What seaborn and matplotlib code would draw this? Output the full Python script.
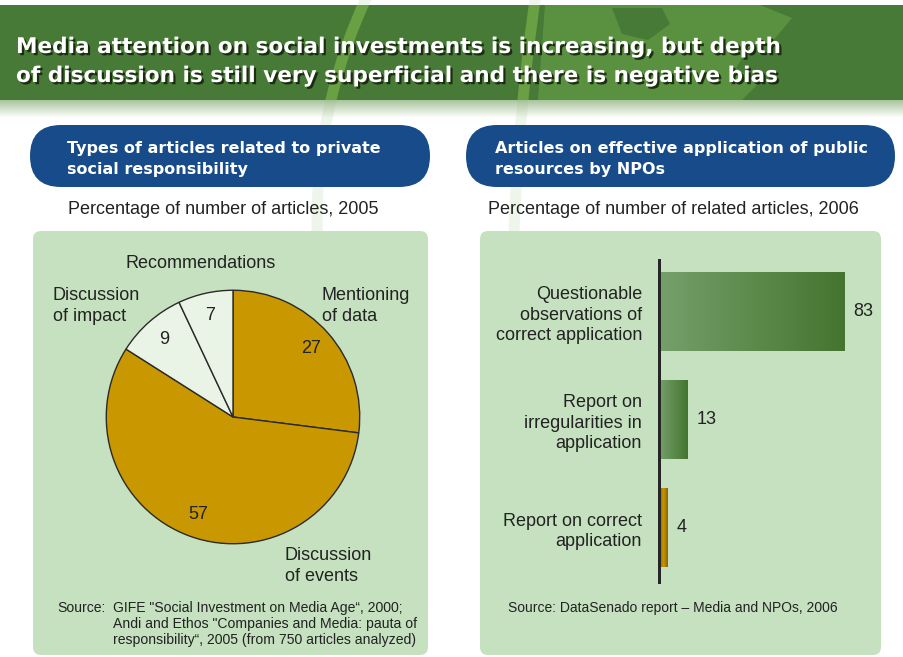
import numpy as np
import pandas as pd
import matplotlib
matplotlib.use("Agg")
import matplotlib.pyplot as plt
from matplotlib import patheffects as pe
from matplotlib.patches import FancyBboxPatch, Rectangle, Ellipse, Polygon
from matplotlib.colors import LinearSegmentedColormap, to_rgb
import seaborn as sns

# ---------------- data ----------------
title_lines = [
    "Media attention on social investments is increasing, but depth",
    "of discussion is still very superficial and there is negative bias",
]

pie_header = ["Types of articles related to private", "social responsibility"]
pie_subtitle = "Percentage of number of articles, 2005"
pie_categories = ["Mentioning of data", "Discussion of events",
                  "Discussion of impact", "Recommendations"]
pie_values = [27, 57, 9, 7]
pie_source = [
    "GIFE \"Social Investment on Media Age\u201c, 2000;",
    "Andi and Ethos \"Companies and Media: pauta of",
    "responsibility\u201c, 2005 (from 750 articles analyzed)",
]

bar_header = ["Articles on effective application of public", "resources by NPOs"]
bar_subtitle = "Percentage of number of related articles, 2006"
bar_categories = ["Questionable\nobservations of\ncorrect application",
                  "Report on\nirregularities in\napplication",
                  "Report on correct\napplication"]
bar_values = [83, 13, 4]
bar_source = "Source: DataSenado report \u2013 Media and NPOs, 2006"

# ---------------- style ----------------
sns.set_theme(style="white")
plt.rcParams["font.family"] = ["Liberation Sans", "DejaVu Sans"]
HEAD_FONT = ["DejaVu Sans"]

W, H = 904, 657
PX = 72 / 100  # points per pixel at dpi 100

BANNER = "#467A36"
BANNER_LIGHT = "#68A043"
OCEAN = "#5A9140"
WATERMARK = "#EEF5EA"
PILL = "#174B89"
PANEL = "#C5E1BF"
GOLD = "#C99700"
PALE = "#EAF4E6"
INK = "#222222"

fig = plt.figure(figsize=(W / 100, H / 100), dpi=100)
fig.patch.set_facecolor("white")

# background canvas in pixel units (y grows downward)
bg = fig.add_axes([0, 0, 1, 1], zorder=0)
bg.set_xlim(0, W)
bg.set_ylim(H, 0)
bg.axis("off")

# faint globe outline (circle plus one meridian) behind the headers
globe = [(842, 220, 525, 525), (842, 330, 330, 900)]
upper = Rectangle((0, 0), W, 232, fc="none", ec="none")
bg.add_patch(upper)
for cx, cy, rx, ry in globe:
    ring = Ellipse((cx, cy), 2 * rx, 2 * ry, fill=False,
                   ec=WATERMARK, lw=11 * PX, zorder=0)
    bg.add_patch(ring)
    ring.set_clip_path(upper)

# green banner with a soft fade at its lower edge
banner = Rectangle((0, 5), W, 95, fc=BANNER, ec="none", zorder=1)
bg.add_patch(banner)
fade = np.zeros((40, 2, 4))
fade[..., :3] = to_rgb("#8DB07C")
fade[..., 3] = np.linspace(0.75, 0.0, 40)[:, None]
bg.imshow(fade, extent=(0, W, 118, 100), aspect="auto", zorder=1,
          interpolation="bilinear")

# lighter sea area west of the map's land masses
sea = Polygon([(545, 5), (760, 5), (792, 18), (772, 42), (748, 48),
               (736, 68), (758, 84), (742, 100), (538, 100)],
              closed=True, fc=OCEAN, ec="none", zorder=1.2)
bg.add_patch(sea)
sea.set_clip_path(banner)
island = Polygon([(612, 8), (662, 8), (670, 24), (648, 40), (622, 34)],
                 closed=True, fc=BANNER, ec="none", zorder=1.3)
bg.add_patch(island)
island.set_clip_path(banner)

for cx, cy, rx, ry in globe:
    ring = Ellipse((cx, cy), 2 * rx, 2 * ry, fill=False,
                   ec=BANNER_LIGHT, lw=11 * PX, zorder=1.5)
    bg.add_patch(ring)
    ring.set_clip_path(banner)

shadow = [pe.SimplePatchShadow(offset=(1.6, -1.6), shadow_rgbFace="#17260f",
                               alpha=0.9), pe.Normal()]
for line, base in zip(title_lines, [53, 82]):
    bg.text(16, base, line, color="white", fontsize=21.6 * PX,
            fontweight="bold", family=HEAD_FONT, va="baseline", ha="left",
            path_effects=shadow, zorder=3)

# section headers (blue pills)
for x0, x1, lines, tx in [(30, 430, pie_header, 67), (466, 895, bar_header, 495)]:
    bg.add_patch(FancyBboxPatch((x0, 125), x1 - x0, 62,
                                boxstyle="round,pad=0,rounding_size=31",
                                fc=PILL, ec="none", zorder=2))
    for line, base in zip(lines, [153, 174]):
        bg.text(tx, base, line, color="white", fontsize=16 * PX,
                fontweight="bold", family=HEAD_FONT, va="baseline",
                ha="left", zorder=3)

bg.text(68, 214, pie_subtitle, color=INK, fontsize=18 * PX, va="baseline")
bg.text(488, 214, bar_subtitle, color=INK, fontsize=18 * PX, va="baseline")

# light-green panels
for x0, x1 in [(33, 428), (480, 881)]:
    bg.add_patch(FancyBboxPatch((x0, 231), x1 - x0, 424,
                                boxstyle="round,pad=0,rounding_size=8",
                                fc=PANEL, ec="none", zorder=2))


def lines_at(x, baselines, lines, size):
    for line, base in zip(lines, baselines):
        bg.text(x, base, line, color=INK, fontsize=size * PX,
                va="baseline", ha="left", zorder=3)


# pie category names
lines_at(126, [268], ["Recommendations"], 18)
lines_at(53, [300, 321], ["Discussion", "of impact"], 18)
lines_at(322, [300, 321], ["Mentioning", "of data"], 18)
lines_at(285, [560, 581], ["Discussion", "of events"], 18)

# sources
lines_at(57, [612], ["Source:"], 14)
lines_at(113, [612, 628, 644], pie_source, 14)
lines_at(508, [612], [bar_source], 13.9)

# ---------------- pie ----------------
cx, cy, r = 233, 417, 128
axp = fig.add_axes([(cx - r) / W, 1 - (cy + r) / H, 2 * r / W, 2 * r / H],
                   zorder=3)
axp.pie(pie_values, colors=[GOLD, GOLD, PALE, PALE], startangle=90,
        counterclock=False, radius=1,
        autopct=lambda p: f"{p:.0f}", pctdistance=0.82,
        textprops=dict(fontsize=18 * PX, color=INK),
        wedgeprops=dict(edgecolor="#2a2a2a", linewidth=1.0))
axp.set_xlim(-1.01, 1.01)
axp.set_ylim(-1.01, 1.01)
axp.set_aspect("equal")
axp.axis("off")

# ---------------- bars ----------------
x0px, x1px, top, bottom = 659, 860, 260, 582
scale = 2.23  # pixels per percentage point
axb = fig.add_axes([x0px / W, 1 - bottom / H, (x1px - x0px) / W,
                    (bottom - top) / H], zorder=3)
axb.patch.set_alpha(0)
df = pd.DataFrame({"category": bar_categories, "share": bar_values})
sns.barplot(data=df, x="share", y="category", orient="h", width=0.73,
            color="#5A8A4C", ax=axb)

greens = LinearSegmentedColormap.from_list("bar_green", ["#75A06B", "#44752F"])
golds = LinearSegmentedColormap.from_list("bar_gold",
                                          ["#8A6400", "#C99600", "#8A6400"])
grad = np.linspace(0, 1, 256).reshape(1, -1)
for patch, cmap in zip(axb.patches, [greens, greens, golds]):
    bx, by = patch.get_x(), patch.get_y()
    bw, bh = patch.get_width(), patch.get_height()
    im = axb.imshow(grad, cmap=cmap, extent=(bx, bx + bw, by + bh, by),
                    aspect="auto", interpolation="bilinear", zorder=2)
    im.set_clip_path(patch)
    patch.set_facecolor("none")
    patch.set_edgecolor("none")

axb.bar_label(axb.containers[0], labels=[f"{v:g}" for v in bar_values],
              padding=9 * PX, fontsize=18 * PX, color=INK)

axb.set_xlim(0, (x1px - x0px) / scale)
axb.set_ylim(2.5, -0.475)
axb.set_xlabel("")
axb.set_ylabel("")
axb.xaxis.set_visible(False)
for side in ["top", "right", "bottom"]:
    axb.spines[side].set_visible(False)
axb.spines["left"].set_color("#262626")
axb.spines["left"].set_linewidth(3 * PX)
axb.tick_params(axis="y", length=0, pad=17 * PX, labelsize=18 * PX,
                labelcolor=INK)
for lab in axb.get_yticklabels():
    lab.set_linespacing(1.26)

fig.savefig("out.png", dpi=100, facecolor="white")
